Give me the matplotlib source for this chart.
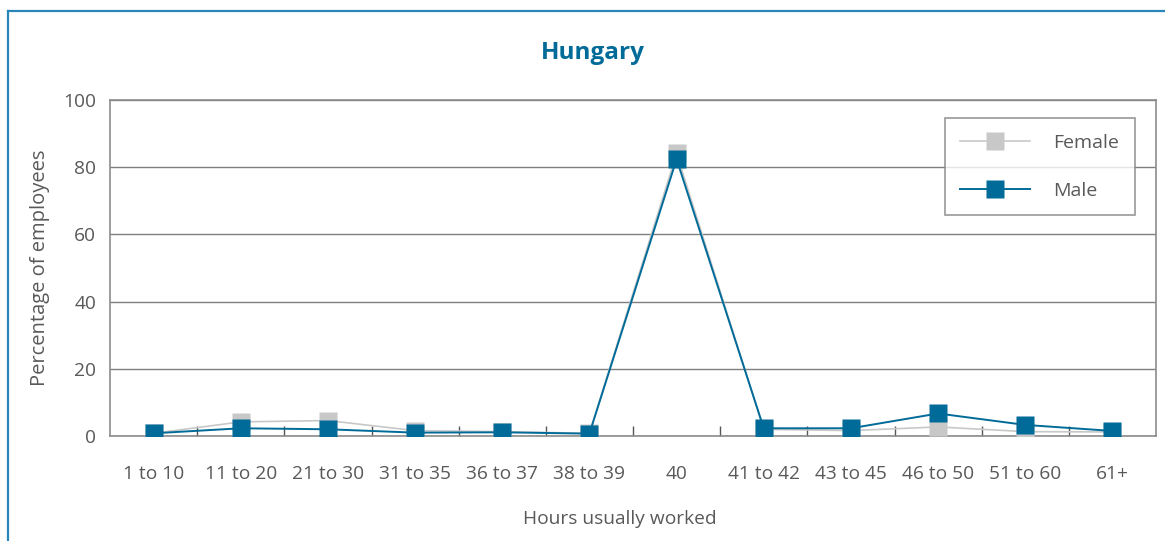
import matplotlib
matplotlib.use("Agg")
from matplotlib import pyplot as plt
from matplotlib.lines import Line2D
import numpy as np

categories = ["1 to 10", "11 to 20", "21 to 30", "31 to 35", "36 to 37", "38 to 39",
              "40", "41 to 42", "43 to 45", "46 to 50", "51 to 60", "61+"]
female = [0.8, 4.2, 4.6, 1.6, 1.3, 0.8, 84.1, 2.0, 1.6, 2.7, 1.3, 1.2]
male = [0.8, 2.3, 2.0, 1.0, 1.1, 0.7, 82.4, 2.3, 2.3, 6.7, 3.3, 1.5]
y_ticks = [0, 20, 40, 60, 80, 100]

blue = "#006b98"
grey = "#c8c8c9"
text_col = "#595959"
axis_col = "#8c8c8c"

plt.rcParams["font.family"] = ["Open Sans", "DejaVu Sans"]

fig = plt.figure(figsize=(11.65, 5.41), dpi=100)
ax = fig.add_axes([110 / 1165, 105 / 541, 1046 / 1165, 336 / 541])

x = np.arange(len(categories))
ax.plot(x, female, color=grey, lw=1.2, marker="s", ms=12.5, mec="none",
        label="Female", zorder=3)
ax.plot(x, male, color=blue, lw=1.4, marker="s", ms=12.5, mec="none",
        label="Male", zorder=4)

ax.set_xlim(-0.5, len(categories) - 0.5)
ax.set_ylim(0, 100)
ax.set_yticks(y_ticks)
ax.set_xticks(x)
ax.set_xticklabels(categories)
ax.set_xticks(np.arange(0.5, len(categories) - 0.5), minor=True)
ax.tick_params(axis="x", which="major", length=0, pad=21, labelsize=13.8, labelcolor=text_col)
ax.tick_params(axis="x", which="minor", length=7, direction="in", color="#555555", width=1)
ax.tick_params(axis="y", length=0, pad=10, labelsize=13.8, labelcolor=text_col)

ax.yaxis.grid(True, color="#7f7f7f", lw=1)
ax.set_axisbelow(True)
for s in ax.spines.values():
    s.set_color(axis_col)
    s.set_linewidth(1.2)

fig.text(40 / 1165, 1 - 268 / 541, "Percentage of employees", fontsize=14.5,
         color=text_col, rotation=90, ha="center", va="center")
fig.text(620 / 1165, 1 - 519 / 541, "Hours usually worked", fontsize=13.8,
         color=text_col, ha="center", va="center")
fig.text(593 / 1165, 1 - 53 / 541, "Hungary", fontsize=17.5, fontweight="bold",
         color=blue, ha="center", va="center")

leg = ax.legend(loc="upper right", bbox_to_anchor=(1135 / 1165, 1 - 118 / 541),
                bbox_transform=fig.transFigure, fontsize=14, frameon=True,
                fancybox=False, edgecolor="#7f7f7f", handlelength=3.6,
                labelspacing=1.55, borderpad=0.8, handletextpad=1.2, borderaxespad=0)
leg.get_frame().set_linewidth(1.2)
for t in leg.get_texts():
    t.set_color(text_col)

# outer blue frame (top and left edges)
fig.add_artist(Line2D([8 / 1165, 1], [1 - 11 / 541, 1 - 11 / 541],
                      transform=fig.transFigure, color="#2a86b8", lw=1.6))
fig.add_artist(Line2D([8 / 1165, 8 / 1165], [0, 1 - 11 / 541],
                      transform=fig.transFigure, color="#2a86b8", lw=1.6))

fig.savefig("out.png", dpi=100)
